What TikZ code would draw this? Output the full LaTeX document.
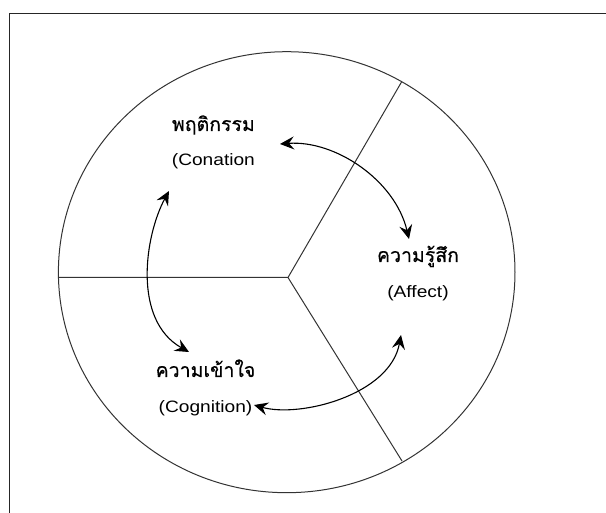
\documentclass[tikz,border=0pt]{standalone}
\usepackage{fontspec}
\setmainfont{Liberation Sans}
\newfontfamily\enfont[FakeStretch=1.16]{Liberation Sans}
\newfontfamily\thaifont[Script=Thai,FakeBold=0.5]{Loma}
\usetikzlibrary{arrows.meta}
\begin{document}
\begin{tikzpicture}[x=1pt,y=-1pt,
  frame/.style={draw=black!85,line width=1.3pt},
  ring/.style={draw=black!80,line width=1pt},
  divider/.style={draw=black!80,line width=1pt},
  twoway/.style={{Stealth[length=14pt,width=13pt,inset=5pt]}-{Stealth[length=14pt,width=13pt,inset=5pt]},line width=1.1pt},
  thlabel/.style={font=\thaifont\fontsize{19.5}{22}\selectfont,anchor=base,inner sep=0pt},
  enlabel/.style={font=\enfont\fontsize{16.5}{20}\selectfont,anchor=base,inner sep=0pt}]
\useasboundingbox (0,0) rectangle (606,513);

% open frame: top and left edges only
\draw[frame] (9.5,513) -- (9.5,13.5) -- (606,13.5);

% the circle and its three sectors
\draw[ring] (286.7,272.2) ellipse [x radius=228.3pt,y radius=220.5pt];
\coordinate (hub) at (288,277.5);
\coordinate (rimW) at (58.5,277.5);
\coordinate (rimNE) at (401.7,81.7);
\coordinate (rimSE) at (402,461);
\draw[divider] (rimW) -- (hub) -- (rimNE);
\draw[divider] (hub) -- (rimSE);

% labels
\node[thlabel] (conTh) at (213.4,131) {พฤติกรรม};
\node[enlabel] (conEn) at (213.4,166) {(Conation};
\node[thlabel] (affTh) at (418,262) {ความรู้สึก};
\node[enlabel] (affEn) at (418,298) {(Affect)};
\node[thlabel] (cogTh) at (205.5,377) {ความเข้าใจ};
\node[enlabel] (cogEn) at (205.5,413) {(Cognition)};

% arrow end points
\coordinate (conR) at (280,144);
\coordinate (affT) at (409,239);
\coordinate (conB) at (169,191);
\coordinate (cogT) at (189,352);
\coordinate (cogR) at (254,405);
\coordinate (affB) at (401,335);

% two-way relations
\draw[twoway] (conR) .. controls (335,140) and (395,180) .. (affT);
\draw[twoway] (conB) .. controls (145,235) and (132,320) .. (cogT);
\draw[twoway] (cogR) .. controls (300,418) and (390,395) .. (affB);
\end{tikzpicture}
\end{document}
